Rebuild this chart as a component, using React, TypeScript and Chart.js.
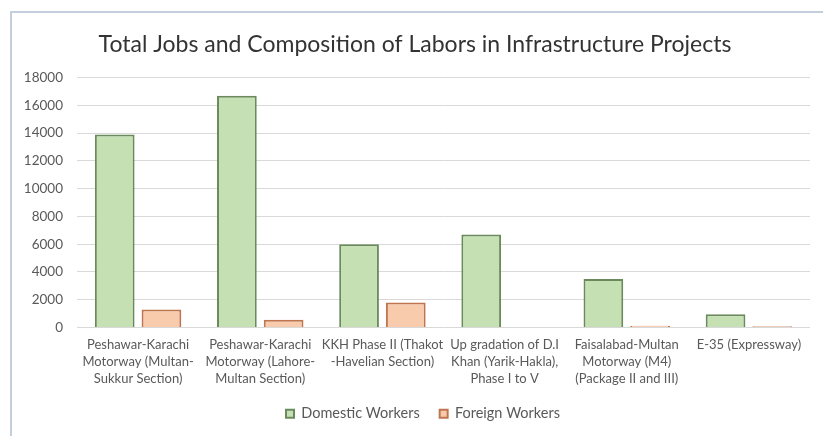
import React, { useEffect, useRef } from "react";
import { Chart, registerables } from "chart.js";

Chart.register(...registerables);

const categories: string[][] = [
  ["Peshawar-Karachi", "Motorway (Multan-", "Sukkur Section)"],
  ["Peshawar-Karachi", "Motorway (Lahore-", "Multan Section)"],
  ["KKH Phase II (Thakot", "-Havelian Section)"],
  ["Up gradation of D.I", "Khan (Yarik-Hakla),", "Phase I to V"],
  ["Faisalabad-Multan", "Motorway (M4)", "(Package II and III)"],
  ["E-35 (Expressway)"],
];

const domesticWorkers: number[] = [13900, 16700, 6000, 6700, 3500, 950];
const foreignWorkers: number[] = [1300, 550, 1800, 0, 130, 90];

const titleText = "Total Jobs and Composition of Labors in Infrastructure Projects";
const seriesNames = ["Domestic Workers", "Foreign Workers"];

const FONT = "Lato, 'Open Sans', sans-serif";

const legendShift = {
  id: "legendShift",
  afterLayout(chart: any) {
    const lg = chart.legend;
    if (lg) {
      lg.left += 8;
      lg.right += 8;
      lg.top -= 7;
      lg.bottom -= 7;
    }
  },
};

export default function App() {
  const canvasRef = useRef<HTMLCanvasElement | null>(null);

  useEffect(() => {
    const canvas = canvasRef.current;
    if (!canvas) return;
    const chart = new Chart(canvas, {
      type: "bar",
      data: {
        labels: categories,
        datasets: [
          {
            label: seriesNames[0],
            data: domesticWorkers,
            backgroundColor: "#c5e0b3",
            borderColor: "#6a8a5c",
            borderWidth: 2,
          },
          {
            label: seriesNames[1],
            data: foreignWorkers,
            backgroundColor: "#f8cbad",
            borderColor: "#bf7650",
            borderWidth: 2,
          },
        ],
      },
      options: {
        animation: false,
        responsive: false,
        devicePixelRatio: 1,
        layout: { padding: { top: 0, left: 20, right: 13, bottom: -2 } },
        datasets: {
          bar: { categoryPercentage: 0.765, barPercentage: 0.85 },
        },
        plugins: {
          title: {
            display: true,
            text: titleText,
            color: "#333333",
            font: { family: FONT, size: 23, weight: "normal" },
            padding: { top: 31, bottom: 19 },
          },
          legend: {
            display: true,
            position: "bottom",
            labels: {
              boxWidth: 8,
              boxHeight: 8,
              padding: 20,
              color: "#595959",
              font: { family: FONT, size: 14.5 },
            },
          },
          tooltip: { enabled: false },
        },
        scales: {
          x: {
            grid: { display: false, drawTicks: false },
            border: { display: false },
            ticks: {
              color: "#595959",
              font: { family: FONT, size: 13, lineHeight: 1.3 },
              maxRotation: 0,
              autoSkip: false,
              padding: 9,
            },
            afterFit: (scale: any) => {
              scale.height = 66;
            },
          },
          y: {
            min: 0,
            max: 18000,
            grid: { color: "#d9d9d9", lineWidth: 1, drawTicks: false },
            border: { display: false },
            ticks: {
              stepSize: 2000,
              color: "#595959",
              font: { family: FONT, size: 13.5 },
              padding: 14,
              callback: (v: any) => String(v),
            },
            afterFit: (scale: any) => {
              scale.width = 57;
            },
          },
        },
      },
      plugins: [legendShift],
    });
    return () => chart.destroy();
  }, []);

  return (
    <div style={{ position: "absolute", left: 0, top: 0, width: 823, height: 436, background: "#ffffff", overflow: "hidden" }}>
      <div
        style={{
          position: "absolute",
          left: 10,
          top: 11,
          width: 813,
          height: 425,
          borderTop: "2px solid #c3d0dc",
          borderLeft: "2px solid #c3d0dc",
          boxSizing: "border-box",
        }}
      />
      <canvas
        ref={canvasRef}
        width={823}
        height={436}
        style={{ position: "absolute", left: 0, top: 0, width: 823, height: 436 }}
      />
    </div>
  );
}
